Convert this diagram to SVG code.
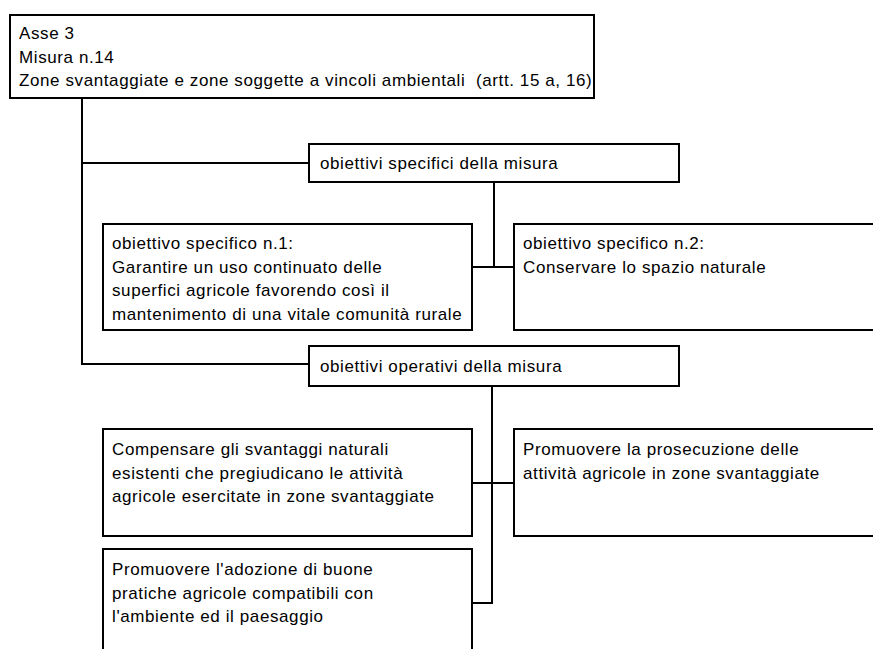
<svg xmlns="http://www.w3.org/2000/svg" width="873" height="649" viewBox="0 0 873 649">
<style>
.box{fill:#fff;stroke:#000;stroke-width:2}
.ln{fill:none;stroke:#000;stroke-width:2}
text{font-family:"Liberation Sans",Arial,sans-serif;font-size:17px;letter-spacing:0.6px;fill:#000}
</style>
<rect width="873" height="649" fill="#fff"/>
<g id="connectors">
<path class="ln" d="M82,98 V364 H309 M82,163 H309"/>
<path class="ln" d="M494,182 V267 M472,267 H514"/>
<path class="ln" d="M492,386 V603 H472 M472,483 H514"/>
</g>
<g id="n-asse">
<rect class="box" x="10" y="15" width="584" height="83"/>
<text x="19" y="39">Asse 3</text>
<text x="19" y="62.5">Misura n.14</text>
<text x="19" y="86" xml:space="preserve">Zone svantaggiate e zone soggette a vincoli ambientali  (artt. 15 a, 16)</text>
</g>
<g id="n-specifici">
<rect class="box" x="309" y="144" width="370" height="38"/>
<text x="320" y="169">obiettivi specifici della misura</text>
</g>
<g id="n-spec1">
<rect class="box" x="103" y="224" width="369" height="106"/>
<text x="112" y="249">obiettivo specifico n.1:</text>
<text x="112" y="272.5">Garantire un uso continuato delle</text>
<text x="112" y="296">superfici agricole favorendo così il</text>
<text x="112" y="319.5">mantenimento di una vitale comunità rurale</text>
</g>
<g id="n-spec2">
<rect class="box" x="514" y="224" width="370" height="106"/>
<text x="523" y="249">obiettivo specifico n.2:</text>
<text x="523" y="272.5">Conservare lo spazio naturale</text>
</g>
<g id="n-operativi">
<rect class="box" x="309" y="346" width="370" height="40"/>
<text x="320" y="372">obiettivi operativi della misura</text>
</g>
<g id="n-op1">
<rect class="box" x="103" y="429" width="369" height="107"/>
<text x="112" y="455">Compensare gli svantaggi naturali</text>
<text x="112" y="478.5">esistenti che pregiudicano le attività</text>
<text x="112" y="502">agricole esercitate in zone svantaggiate</text>
</g>
<g id="n-op2">
<rect class="box" x="514" y="429" width="370" height="107"/>
<text x="523" y="455">Promuovere la prosecuzione delle</text>
<text x="523" y="478.5">attività agricole in zone svantaggiate</text>
</g>
<g id="n-op3">
<rect class="box" x="103" y="549" width="369" height="120"/>
<text x="112" y="575">Promuovere l'adozione di buone</text>
<text x="112" y="598.5">pratiche agricole compatibili con</text>
<text x="112" y="622">l'ambiente ed il paesaggio</text>
</g>
</svg>
